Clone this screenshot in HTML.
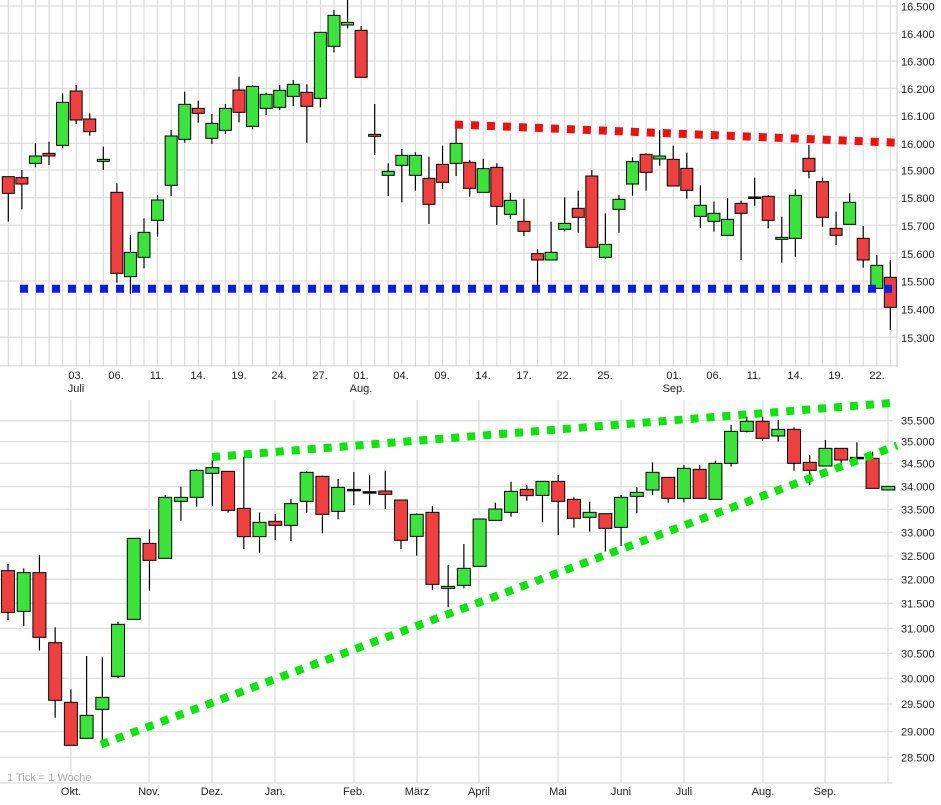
<!DOCTYPE html>
<html><head><meta charset="utf-8"><style>
html,body{margin:0;padding:0;background:#fff;}
svg{display:block;font-family:"Liberation Sans",sans-serif;}
</style></head><body>
<svg id="s" width="941" height="805" xmlns="http://www.w3.org/2000/svg"></svg>
<script>
const s=document.getElementById('s');let h='';
const G='#3de33d',R='#ef4040';
// top chart
const ty=[6,33.3,61,88.3,115.7,143.3,170,197.7,225.3,253.3,281,309,337.3,365.7];
ty.forEach(y=>{h+=`<line x1="0" y1="${y}" x2="897" y2="${y}" stroke="#d6d6d6"/>`;});
for(let i=0;i<66;i++){const x=8.3+13.57*i;h+=`<line x1="${x}" y1="0" x2="${x}" y2="367" stroke="#d6d6d6"/>`;}
h+=`<line x1="897" y1="0" x2="897" y2="367" stroke="#ccc"/>`;
const T=[
['r',530,580,530,665],['r',533,552,510,628],['g',468,490,430,502],['r',460,468,425,495],['g',307,436,280,445],
['r',273,360,255,372],['r',357,395,340,407],['g',478,484,440,510],['r',577,820,550,848],['g',757,830,705,882],
['g',697,772,655,805],['g',600,661,585,710],['g',408,556,390,588],['g',313,418,275,428],['r',325,340,302,368],
['g',370,415,342,432],['g',325,391,312,402],['r',270,337,230,367],['g',259,379,255,388],['g',283,325,278,345],
['g',271,322,255,330],['g',253,289,240,318],['r',277,319,253,428],['g',97,295,97,322],['g',46,139,30,157],
['g',67,75,0,85],['r',91,232,78,232],['r',403,409,312,465],['g',514,526,490,588],['g',466,496,447,607],
['g',466,526,457,572],['r',535,613,470,672],['r',493,547,437,567],['g',430,490,385,528],['r',487,565,480,590],
['g',506,577,476,577],['r',502,619,490,675],['g',601,643,578,657],['r',664,694,596,708],['r',761,780,748,858],
['g',757,780,665,780],['g',670,688,592,695],['r',625,652,572,698],['r',528,742,510,742],['g',733,772,640,778],
['g',598,628,585,698],['g',485,552,472,587],['r',463,517,460,572],['g',468,477,390,497],['r',478,558,437,558],
['r',505,571,458,596],['g',616,649,556,684],['g',640,664,605,695],['g',658,706,594,706],['r',610,640,602,780],
['k',591,593,533,617],['r',589,661,585,685],['g',712,718,650,788],['g',586,715,568,770],['r',475,514,435,535],
['r',545,652,533,680],['r',685,706,635,735],['g',607,673,580,673],['r',715,780,678,803],['g',796,865,765,865],
['r',832,922,780,990]];
function candles(arr,x0,dx,w,yo){arr.forEach((c,i)=>{const x=x0+dx*i;const bt=yo+c[1]/3,bb=yo+c[2]/3,wt=yo+c[3]/3,wb=yo+c[4]/3;
h+=`<line x1="${x}" y1="${wt}" x2="${x}" y2="${wb}" stroke="#000" stroke-width="1.2"/>`;
const f=c[0]=='g'?G:c[0]=='r'?R:'#000';h+=`<rect x="${x-w/2}" y="${bt}" width="${w}" height="${Math.max(bb-bt,1.5)}" fill="${f}" stroke="#000" stroke-width="1"/>`;});}
candles(T,8.3,13.57,12,0);
h+=`<line x1="20" y1="288.7" x2="893" y2="288.7" stroke="#0a1ee6" stroke-width="8" stroke-dasharray="8 8"/>`;
h+=`<line x1="455" y1="124.5" x2="897" y2="142.7" stroke="#f01010" stroke-width="8" stroke-dasharray="8 8"/>`;
const yl=['16.500','16.400','16.300','16.200','16.100','16.000','15.900','15.800','15.700','15.600','15.500','15.400','15.300'];
yl.forEach((t,i)=>{h+=`<text x="901" y="${ty[i]+4.5}" font-size="11" fill="#222">${t}</text>`;});
const xl=[[76,'03.','Juli'],[116,'06.'],[157,'11.'],[198,'14.'],[239,'19.'],[279,'24.'],[320,'27.'],[361,'01.','Aug.'],[401,'04.'],[442,'09.'],[483,'14.'],[524,'17.'],[564,'22.'],[605,'25.'],[674,'01.','Sep.'],[714,'06.'],[754,'11.'],[795,'14.'],[836,'19.'],[877,'22.']];
xl.forEach(a=>{h+=`<text x="${a[0]}" y="379" font-size="11" text-anchor="middle" fill="#222">${a[1]}</text>`;if(a[2])h+=`<text x="${a[0]}" y="392" font-size="11" text-anchor="middle" fill="#222">${a[2]}</text>`;});
// bottom chart
const by=[420.7,441.7,463.3,486.7,509.3,532.3,556,579.3,603.3,628.3,653.3,678.3,704,731.7,757.3];
const bl=['35.500','35.000','34.500','34.000','33.500','33.000','32.500','32.000','31.500','31.000','30.500','30.000','29.500','29.000','28.500'];
by.forEach((y,i)=>{h+=`<line x1="0" y1="${y}" x2="893" y2="${y}" stroke="#d6d6d6"/><text x="901" y="${y+4}" font-size="11" fill="#222">${bl[i]}</text>`;});
h+=`<line x1="0" y1="783" x2="893" y2="783" stroke="#d6d6d6"/>`;
const mx=[[71,'Okt.'],[149,'Nov.'],[212,'Dez.'],[275,'Jan.'],[354,'Feb.'],[417,'März'],[479,'April'],[558,'Mai'],[621,'Juni'],[684,'Juli'],[763,'Aug.'],[825,'Sep.'],[888,'']];
mx.forEach(a=>{h+=`<line x1="${a[0]}" y1="400" x2="${a[0]}" y2="783" stroke="#d6d6d6"/><text x="${a[0]}" y="795" font-size="11" text-anchor="middle" fill="#222">${a[1]}</text>`;});
h+=`<text x="7" y="781" font-size="11" fill="#aaa">1 Tick = 1 Woche</text>`;
const B=[
['r',512,637,492,660],['g',518,634,505,678],['r',518,712,465,752],['r',728,901,682,953],['r',907,1036,868,1036],
['g',946,1015,768,1015],['g',892,928,772,1030],['g',673,829,665,835],['g',415,658,415,658],['r',430,481,388,572],
['g',292,475,285,475],['g',292,304,260,362],['g',211,292,208,320],['g',203,220,180,318],['r',214,331,214,338],
['r',325,410,170,447],['g',367,410,337,458],['r',364,376,342,420],['g',311,376,297,423],['g',217,304,213,338],
['r',229,343,227,400],['g',262,334,237,358],['k',268,270,216,316],['k',275,277,225,315],['r',273,283,212,327],
['r',300,421,300,447],['g',343,409,340,467],['r',337,553,318,570],['g',559,565,495,622],['g',505,556,432,565],
['g',357,499,357,499],['g',327,361,308,361],['g',274,337,245,350],['r',268,287,255,302],['g',244,286,244,367],
['r',244,304,225,405],['r',298,355,292,383],['g',337,352,305,395],['r',341,385,341,455],['g',292,382,285,438],
['g',277,289,262,340],['g',217,270,187,285],['r',232,295,232,308],['g',205,295,195,307],['r',208,295,195,295],
['g',190,298,182,298],['g',94,190,75,200],['g',64,94,50,97],['r',64,115,50,122],['g',88,108,60,125],
['r',88,190,82,212],['r',187,211,165,255],['g',145,198,120,198],['r',145,180,145,212],['k',172,174,127,190],
['r',175,265,155,265],['g',259,270,259,270]];
candles(B,8,15.72,13,400);
h+=`<line x1="212" y1="457" x2="897" y2="402.5" stroke="#0ae60a" stroke-width="8" stroke-dasharray="8 8"/>`;
h+=`<line x1="101" y1="744.5" x2="897" y2="445.5" stroke="#0ae60a" stroke-width="8" stroke-dasharray="8 8"/>`;
s.innerHTML=h;
</script>
</body></html>
